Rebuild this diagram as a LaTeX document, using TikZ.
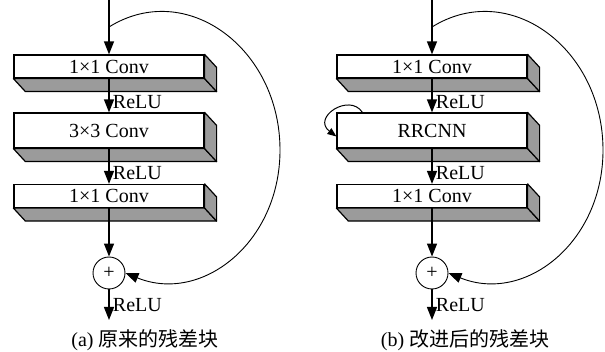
\documentclass[tikz,border=0pt]{standalone}
\usepackage{fontspec}
\setmainfont{Liberation Serif}
\newfontfamily\cjkfont{Noto Sans CJK SC}
\usetikzlibrary{arrows.meta,calc}

\definecolor{sidegray}{RGB}{155,155,155}
\tikzset{
  layer/.style={draw, line width=1.2pt, fill=white, minimum width=190pt,
    minimum height=23pt, inner sep=0pt},
  sumnode/.style={draw, line width=0.9pt, circle, minimum size=32pt, inner sep=0pt},
  flow/.style={line width=1.3pt, -{Triangle[length=13pt,width=10pt]}},
  skip/.style={line width=0.9pt, -{Triangle[length=13pt,width=10pt]}},
  loopback/.style={line width=1pt, -{Triangle[length=9pt,width=7pt]}},
}
% grey bottom and side faces of a layer box
\newcommand{\layerside}[1]{%
  \filldraw[fill=sidegray, line width=1.2pt, line join=round]
    (#1.south west) -- ++(12,13) -- ($(#1.south east)+(12,13)$) -- (#1.south east) -- cycle;
  \filldraw[fill=sidegray, line width=1.2pt, line join=round]
    (#1.north east) -- ++(12,13) -- ($(#1.south east)+(12,13)$) -- (#1.south east) -- cycle;
}

\begin{document}
\begin{tikzpicture}[x=1pt,y=-1pt,font=\fontsize{20}{24}\selectfont]
\useasboundingbox (0,0) rectangle (605,352);

% (a) original block
\node[layer] (a1) at (109,66.5) {1×1 Conv};
\node[layer,minimum height=35pt] (a2) at (109,130.5) {3×3 Conv};
\node[layer] (a3) at (109,196) {1×1 Conv};
\node[sumnode] (as) at (109,273) {+};
\coordinate (ain) at (109,0);
\coordinate (asplit) at (109,27);
\coordinate (aright) at (280,150);
\coordinate (aout) at (109,320);
\layerside{a1}
\layerside{a2}
\layerside{a3}
\draw[flow] (ain) -- (a1);
\draw[flow] (a1) -- node[right,pos=0.7] {ReLU} (a2);
\draw[flow] (a2) -- node[right,pos=0.7] {ReLU} (a3);
\draw[flow] (a3) -- (as);
\draw[flow] (as) -- node[right] {ReLU} (aout);
\draw[skip] (asplit) .. controls +(77,-48) and +(0,-102) .. (aright)
  .. controls +(0,93) and +(76,31) .. (as.east);
\node (acap) at (145,340) {(a) {\cjkfont 原来的残差块}};

% (b) improved block
\begin{scope}[xshift=323pt]
\node[layer] (b1) at (109,66.5) {1×1 Conv};
\node[layer,minimum height=35pt] (b2) at (109,130.5) {RRCNN};
\node[layer] (b3) at (109,196) {1×1 Conv};
\node[sumnode] (bs) at (109,273) {+};
\coordinate (bin) at (109,0);
\coordinate (bsplit) at (109,27);
\coordinate (bright) at (280,150);
\coordinate (bout) at (109,320);
\layerside{b1}
\layerside{b2}
\layerside{b3}
\draw[flow] (bin) -- (b1);
\draw[flow] (b1) -- node[right,pos=0.7] {ReLU} (b2);
\draw[flow] (b2) -- node[right,pos=0.7] {ReLU} (b3);
\draw[flow] (b3) -- (bs);
\draw[flow] (bs) -- node[right] {ReLU} (bout);
\draw[skip] (bsplit) .. controls +(77,-48) and +(0,-102) .. (bright)
  .. controls +(0,93) and +(76,31) .. (bs.east);
\draw[loopback] ([xshift=26pt]b2.north west) .. controls +(-13,-20) and +(-25,-19)
  .. ([yshift=-6pt]b2.west);
\node (bcap) at (142,340) {(b) {\cjkfont 改进后的残差块}};
\end{scope}
\end{tikzpicture}
\end{document}
